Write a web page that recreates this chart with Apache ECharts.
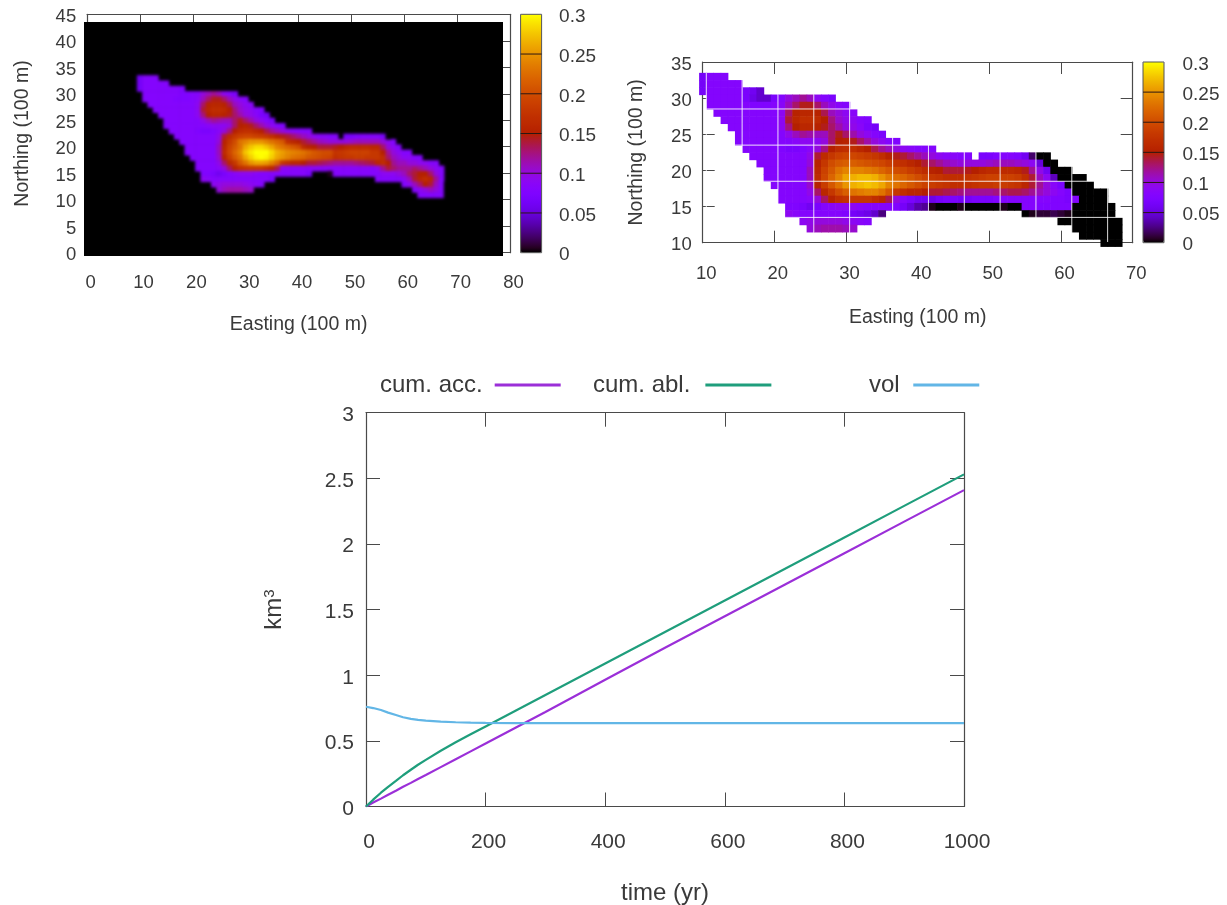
<!DOCTYPE html>
<html><head><meta charset="utf-8">
<style>
html,body{margin:0;padding:0;background:#fff;width:1227px;height:905px;overflow:hidden}
#main{position:absolute;left:0;top:0;width:1227px;height:905px;filter:blur(.55px)}
#leftWrap{position:absolute;left:84.4px;top:21.7px;width:418.3px;height:234.3px;overflow:hidden;background:#000}
#leftMap{position:absolute;left:0;top:0;width:418.3px;height:234.3px;filter:blur(1.5px)}
</style>
<script src="https://cdn.jsdelivr.net/npm/echarts@6/dist/echarts.min.js"></script>
</head><body>
<div id="main"></div>
<div id="leftWrap"><div id="leftMap"></div></div>
<script>
// ---- Right map: [northing, first easting, values (x 0.01)]
const rightRows = [
[33,10,[6.5,8,8,8]],
[32,10,[6.5,8,8,8,8,8]],
[31,10,[6.5,8,8,8,8,8,7,6,4.5]],
[30,11,[8,8,8,8,8,7,5.5,4.5,4.5,7,8,10,11,12,11,9,8,7]],
[29,11,[8,8,8,8,8,8,7.5,7.5,7.5,8,8.5,11,13,14.5,14.5,13,11,9.5,8.5,8]],
[28,12,[8,8,8,8,8,8,8,8,8,9,13,15.5,16,16,15.5,13.5,11,10,9,8.5]],
[27,13,[8,8,8,8,8,8,8,8,9,14,16,17,17,16.5,15,12.5,10.5,9.5,9,8,7.5]],
[26,14,[8,8,8,8,8,8,8,9,12.5,15,16,16,15.5,14.5,13,11.5,10,9.5,8.5,7,6.5]],
[25,15,[8,8,8,8,8,8,8,9.5,11,12,11.5,11,11,13,14.5,13,11.5,10,9,8,7]],
[24,15,[8,8,8,8,8,8,8,8,8.5,9,9,9,10,13,15,15.5,14.5,13,11.5,10,9,8,7.5]],
[23,16,[8,8,8,8,8,7.5,7,7,7.5,8.5,10,12.5,15,16.5,17,17,16,15,13.5,12,11,10,9,8.5,8,8,8]],
[22,17,[8,8,8,8,8,8,8,8,9.5,14,16.5,18,19,19.5,19.5,19,18.5,18,17,15.5,14.5,14,13,12,11,10,9,8.5,8.5,8,8]],
[22,49,[7,7,7.5,8,8,7.5,6,2,0,0]],
[21,18,[8,8,8,8,8,8,8,10,15.5,18,20,21,21.5,21.5,21,20.5,20,19.5,18.5,17.5,17,16,15,14,13,12,11,10.5,10,10,10,10,10.5,11,11,11,10.5,10,9,5,0,0]],
[20,19,[8,8,8,8,8,8,11,16,19,21,23,24,24,24,23.5,23,22,21,20,19.5,18.5,17.5,16.5,15.5,15,14,14,14,14.5,15,16,16.5,16.5,16.5,16.5,16,14.5,12,9.5,6,0,0,0]],
[19,19,[8,8,8,8,8,8,11,16.5,19.5,22,24,26,26.5,27,27,26.5,25,23.5,22.5,22,21,20,19,18,17.5,17,17,17,17.5,18,18.5,19,19,19,19,18.5,17,14,11,9,4,0,0,0,0]],
[18,20,[8,8,8,8,8,10.5,15.5,18.5,21,23,25,26.5,27,27.5,27,26,24,23,22,21,20,19,18.5,18,17.5,17,17,17,17.5,18,18,18.5,18.5,18,17.5,16,14,12,10,8.5,7,0,0,0,0]],
[17,21,[8,8,8,8,9.5,13,16,18,20,21.5,23,23.5,24,24,23,21,18,17,16,16,15,14,14,13.5,13,12.5,12,12,12,12,12.5,13,13.5,13.5,13,12,11,10,9,8,7,0,0,0,0,0]],
[16,21,[8,8,8,8,8.5,10,13,15.5,17,17.5,18,18,18,17,16,13.5,10,8,7,6,6,5.5,6.5,7,7,6.5,6.5,7,7,7,7.5,8,8,8,8,8,8,8,7.5,7.5,7,8,0,0,0,0]],
[15,22,[7.5,7.5,7,6,7,8,8.5,9,9,9,8.5,8,8,8,8,7.5,6.5,5,3.5,3,0.5,0,0,0,0.5,0,0,0,0,0,0.5,0,0,8,8,7.5,7.5,7.5,7.5,7.5,0,0,0,0,0,0]],
[14,22,[9,8.5,8,8,8,8,8,8,7.5,6.5,6,5.5,4.5,2.5]],
[14,55,[0,0.5,1,1,1.5,1,0.5,0,0,0,0,0,0]],
[13,24,[9,9.5,10,10,10,10,9.5,9,8.5,8]],
[13,60,[0,0,0,0,0,0,0,0,0]],
[12,25,[10,11,11.5,11.5,11.5,11,10.5]],
[12,62,[0,0,0,0,0,0,0]],
[11,63,[0,0,0,0,0,0]],
[10,66,[0,0,0]]
];
// ---- Left map: same field, with the eastern tongue and the brighter ridge
const leftRows = [
[30,16,[8,8,7.5,7.5,8]],
[31,16,[8,8,7.5]],
[22,54,[8,8,7,0,0]],
[21,54,[11,11,10,9,8,0]],
[20,54,[16,16,13,10,9,8,0,0]],
[19,54,[18,18,15,12,10,9,8,8,0,0]],
[18,54,[18,18,17,13,11,10,9,9,8,8,0]],
[17,54,[14,16,17,15,12,11,11,10,10,9,9,8,8]],
[16,37,[9,9,8.5,8.5,8.5,8.5,8.5,8.5,8.5,8.5,8.5,8.5,8.5,8.5,8.5,8.5,8.5]],
[16,54,[8,9,12,14,13,12,12,12,13,12,11,10,9,8]],
[15,36,[8,8,8,8,8,8,7]],
[15,47,[8,8,8,8,8,8,8]],
[15,54,[8,8,9,9,9,10,11,13,14,15,15,13,10,8]],
[14,30,[8,8,8,8,8,7]],
[14,55,[8,8,8,8,8,9,11,14,16,17,16,12,8]],
[13,60,[8,9,11,13,15,14,11,8,0]],
[12,62,[8,9,10,11,10,8,0]],
[11,63,[8,8,8,8,8,0]],
[21,29,[23,24,25,25,25,24,23,22,21]],
[20,30,[26,27.5,28.5,28.5,27.5,26,24,23,22,21,20]],
[19,30,[27.5,29,30,30,30,28.5,26.5,25.5,24.5,24,23.5,23,22,21,20.5,20,20]],
[18,30,[26,28,29.5,30,29.5,28,26,25,24,23,22.5,22,21,20.5,20,19.5,19]],
[17,29,[21,23,25,26,26,25.5,24,22]]
];
// white graticule over the right map
const gridEastings = [10.5,15.5,20.5,25.5,30.5,36.5,41.5,46.5,51.5,56.5,61.5,66.5];
const gridNorthings = [28.5,23.5,18.5,13.5];
// ---- Line chart
const timeYears = [0,12,25,37,50,62,75,87,100,125,150,175,200,250,300,400,500,600,700,800,900,1000];
const cumAcc    = [0,0.03,0.06,0.09,0.12,0.15,0.18,0.21,0.24,0.30,0.36,0.42,0.48,0.60,0.72,0.965,1.21,1.45,1.69,1.93,2.17,2.41];
const cumAbl    = [0,0.052,0.105,0.15,0.195,0.238,0.28,0.318,0.355,0.425,0.49,0.55,0.61,0.73,0.85,1.09,1.33,1.57,1.81,2.05,2.29,2.53];
const vol       = [0.76,0.75,0.735,0.715,0.697,0.68,0.668,0.66,0.654,0.647,0.642,0.639,0.637,0.635,0.635,0.635,0.635,0.635,0.635,0.635,0.635,0.635];
const seriesNames = ['cum. acc.','cum. abl.','vol'];
const seriesColors = ['#9b2fd8','#1f9e7c','#62b6e6'];
const barTickValues = [0,0.05,0.1,0.15,0.2,0.25,0.3];

// gnuplot pm3d default palette (rgbformulae 7,5,15)
const palette = [];
for(let i=0;i<=48;i++){
  const t=i/48, hex=v=>('0'+Math.round(255*Math.max(0,Math.min(1,v))).toString(16)).slice(-2);
  palette.push('#'+hex(Math.sqrt(t))+hex(t*t*t)+hex(Math.sin(2*Math.PI*t)));
}

function toCells(rows){
  const out=[];
  rows.forEach(r=>r[2].forEach((v,i)=>out.push([r[1]+i,r[0],v/100])));
  return out;
}
function leftCells(){
  const m=new Map();
  toCells(rightRows).forEach(c=>{ if(c[2]>0) m.set(c[0]+'_'+c[1],c); });
  toCells(leftRows).forEach(c=>m.set(c[0]+'_'+c[1],c));
  return Array.from(m.values());
}
function cellItem(params,api){
  const a=api.coord([api.value(0)-.5,api.value(1)+.5]);
  const b=api.coord([api.value(0)+.5,api.value(1)-.5]);
  return {type:'rect',shape:{x:a[0],y:a[1],width:b[0]-a[0]+.6,height:b[1]-a[1]+.6},style:{fill:api.visual('color')}};
}
const FF='"Liberation Sans",Arial,sans-serif';
const INK='#3a3a3a', LINE='#4a4a4a';

function axisPair(kind,gridIndex,o){
  const label={show:true,color:INK,fontFamily:FF,fontSize:o.font,margin:o.margin,hideOverlap:false,showMinLabel:true,showMaxLabel:true,
      formatter:v=>String(v)};
  if(kind==='x') label.padding=[0,0,0,o.shift||0];
  else { label.verticalAlign='top'; label.lineHeight=o.shift; }
  const main={type:'value',gridIndex,min:o.min,max:o.max,interval:o.interval,
    position:kind==='x'?'bottom':'left',
    axisLine:{show:true,onZero:false,lineStyle:{color:LINE,width:1.2}},
    axisTick:{show:true,inside:true,length:o.tick,lineStyle:{color:LINE,width:1}},
    splitLine:{show:false},
    axisLabel:label,
    name:o.name,nameLocation:'middle',nameGap:o.nameGap,
    nameTextStyle:Object.assign({color:INK,fontFamily:FF,fontSize:o.nameFont},o.nameExtra||{})};
  const mirror={type:'value',gridIndex,min:o.min,max:o.max,interval:o.interval,
    position:kind==='x'?'top':'right',
    axisLine:{show:true,onZero:false,lineStyle:{color:LINE,width:1.2}},
    axisTick:{show:true,inside:true,length:o.tick,lineStyle:{color:LINE,width:1}},
    splitLine:{show:false},axisLabel:{show:false}};
  return [main,mirror];
}
const grids=[
 {left:87.2,top:14.3,width:422.8,height:238.4,outerBoundsMode:'none'},
 {left:702.7,top:62,width:430,height:180.7,outerBoundsMode:'none'},
 {left:366,top:412.7,width:598,height:393.8,outerBoundsMode:'none'},
 {left:520.6,top:14.3,width:21,height:238.4,show:true,backgroundColor:'transparent',borderColor:'#555',borderWidth:1,z:6,outerBoundsMode:'none'},
 {left:1143,top:62,width:21,height:180.7,show:true,backgroundColor:'transparent',borderColor:'#555',borderWidth:1,z:6,outerBoundsMode:'none'}
];
const xAxes=[
 ...axisPair('x',0,{min:0,max:80,interval:10,tick:12,font:18.5,margin:21,shift:7,name:'Easting (100 m)',nameGap:62,nameFont:19.5}),
 ...axisPair('x',1,{min:10,max:70,interval:10,tick:12,font:18.5,margin:21.5,shift:7,name:'Easting (100 m)',nameGap:65,nameFont:19.5}),
 ...axisPair('x',2,{min:0,max:1000,interval:200,tick:14,font:21,margin:25,shift:6,name:'time (yr)',nameGap:75,nameFont:24}),
 {type:'value',gridIndex:3,min:0,max:1,show:false},
 {type:'value',gridIndex:4,min:0,max:1,show:false}
];
const yAxes=[
 ...axisPair('y',0,{min:0,max:45,interval:5,tick:12,font:18.5,margin:11,shift:5,name:'Northing (100 m)',nameGap:55,nameFont:19.5}),
 ...axisPair('y',1,{min:10,max:35,interval:5,tick:12,font:18.5,margin:11,shift:5,name:'Northing (100 m)',nameGap:56.5,nameFont:19.5}),
 ...axisPair('y',2,{min:0,max:3,interval:0.5,tick:14,font:21,margin:12,shift:5,name:'{a|km}{b|3}',nameGap:80,nameFont:24,
    nameExtra:{rich:{a:{fontSize:24,fontFamily:FF,color:INK},b:{fontSize:15,fontFamily:FF,color:INK,verticalAlign:'top',padding:[0,0,9,0]}}}})
];
[3,4].forEach(g=>{
 yAxes.push({type:'value',gridIndex:g,position:'right',min:0,max:0.3,interval:0.05,
   axisLine:{show:false},axisTick:{show:false},splitLine:{show:false},
   axisLabel:{color:INK,fontFamily:FF,fontSize:19,margin:g===3?17.5:18.5,verticalAlign:'top',lineHeight:5,formatter:v=>String(+v.toFixed(2))}});
});
const lineVals=[cumAcc,cumAbl,vol];
const lineSeries=seriesNames.map((n,i)=>({name:n,type:'line',xAxisIndex:4,yAxisIndex:4,showSymbol:false,symbol:'none',
   data:timeYears.map((t,k)=>[t,lineVals[i][k]]),lineStyle:{color:seriesColors[i],width:2.2},itemStyle:{color:seriesColors[i]},
   smooth:false,animation:false}));
const barLines=[6,7].map(ax=>({type:'custom',name:'colour bar ticks',xAxisIndex:ax,yAxisIndex:ax,encode:{y:0},z:10,silent:true,animation:false,
   data:barTickValues.slice(1,-1).map(v=>[v]),
   renderItem:(p,api)=>{const a=api.coord([0,api.value(0)]),b=api.coord([1,api.value(0)]);
     return {type:'line',shape:{x1:a[0],y1:a[1],x2:b[0],y2:b[1]},style:{stroke:'#2c1712',lineWidth:1}};}}));
const chart=echarts.init(document.getElementById('main'),null,{renderer:'canvas'});
const legendAt=[[380,0,7],[593,1,10],[869,2,8.6]];
chart.setOption({
 animation:false,backgroundColor:'#fff',
 grid:grids,xAxis:xAxes,yAxis:yAxes,
 legend:legendAt.map(l=>({data:[seriesNames[l[1]]],left:l[0],top:373,padding:0,align:'right',icon:'rect',itemWidth:66,itemHeight:3,
   selectedMode:false,textStyle:{color:INK,fontFamily:FF,fontSize:24,padding:[0,l[2],0,0]}})),
 visualMap:[
  {type:'continuous',seriesIndex:0,dimension:2,min:0,max:0.3,calculable:false,left:520.6,top:14.3,itemWidth:21,itemHeight:238.4,padding:0,inRange:{color:palette},text:null,hoverLink:false,z:1},
  {type:'continuous',seriesIndex:0,dimension:2,min:0,max:0.3,calculable:false,left:1143,top:62,itemWidth:21,itemHeight:180.7,padding:0,inRange:{color:palette},text:null,hoverLink:false,z:1}
 ],
 series:[
  {type:'custom',name:'right map',xAxisIndex:2,yAxisIndex:2,encode:{x:0,y:1},data:toCells(rightRows),renderItem:cellItem,silent:true,animation:false},
  {type:'custom',name:'graticule E',xAxisIndex:2,yAxisIndex:2,encode:{x:0},data:gridEastings.map(x=>[x]),silent:true,animation:false,z:3,
   renderItem:(p,api)=>{const a=api.coord([api.value(0),10.1]),b=api.coord([api.value(0),33.5]);
     return {type:'line',shape:{x1:a[0],y1:a[1],x2:b[0],y2:b[1]},style:{stroke:'rgba(255,255,255,.85)',lineWidth:1}};}},
  {type:'custom',name:'graticule N',xAxisIndex:2,yAxisIndex:2,encode:{y:0},data:gridNorthings.map(y=>[y]),silent:true,animation:false,z:3,
   renderItem:(p,api)=>{const a=api.coord([10.5,api.value(0)]),b=api.coord([69,api.value(0)]);
     return {type:'line',shape:{x1:a[0],y1:a[1],x2:b[0],y2:b[1]},style:{stroke:'rgba(255,255,255,.85)',lineWidth:1}};}},
  ...lineSeries,
  ...barLines
 ]
});
// blurred left field, same colour scale, laid over the left axes as the opaque image of the original
const left=echarts.init(document.getElementById('leftMap'));
left.setOption({
 animation:false,backgroundColor:'#000',
 grid:{left:0,right:0,top:0,bottom:0},
 xAxis:{type:'value',min:-0.5,max:78.5,show:false},
 yAxis:{type:'value',min:-0.5,max:43.5,show:false},
 visualMap:{show:false,type:'continuous',seriesIndex:0,dimension:2,min:0,max:0.3,inRange:{color:palette}},
 series:[{type:'custom',encode:{x:0,y:1},data:leftCells(),renderItem:cellItem,silent:true,animation:false}]
});
</script>
</body></html>
